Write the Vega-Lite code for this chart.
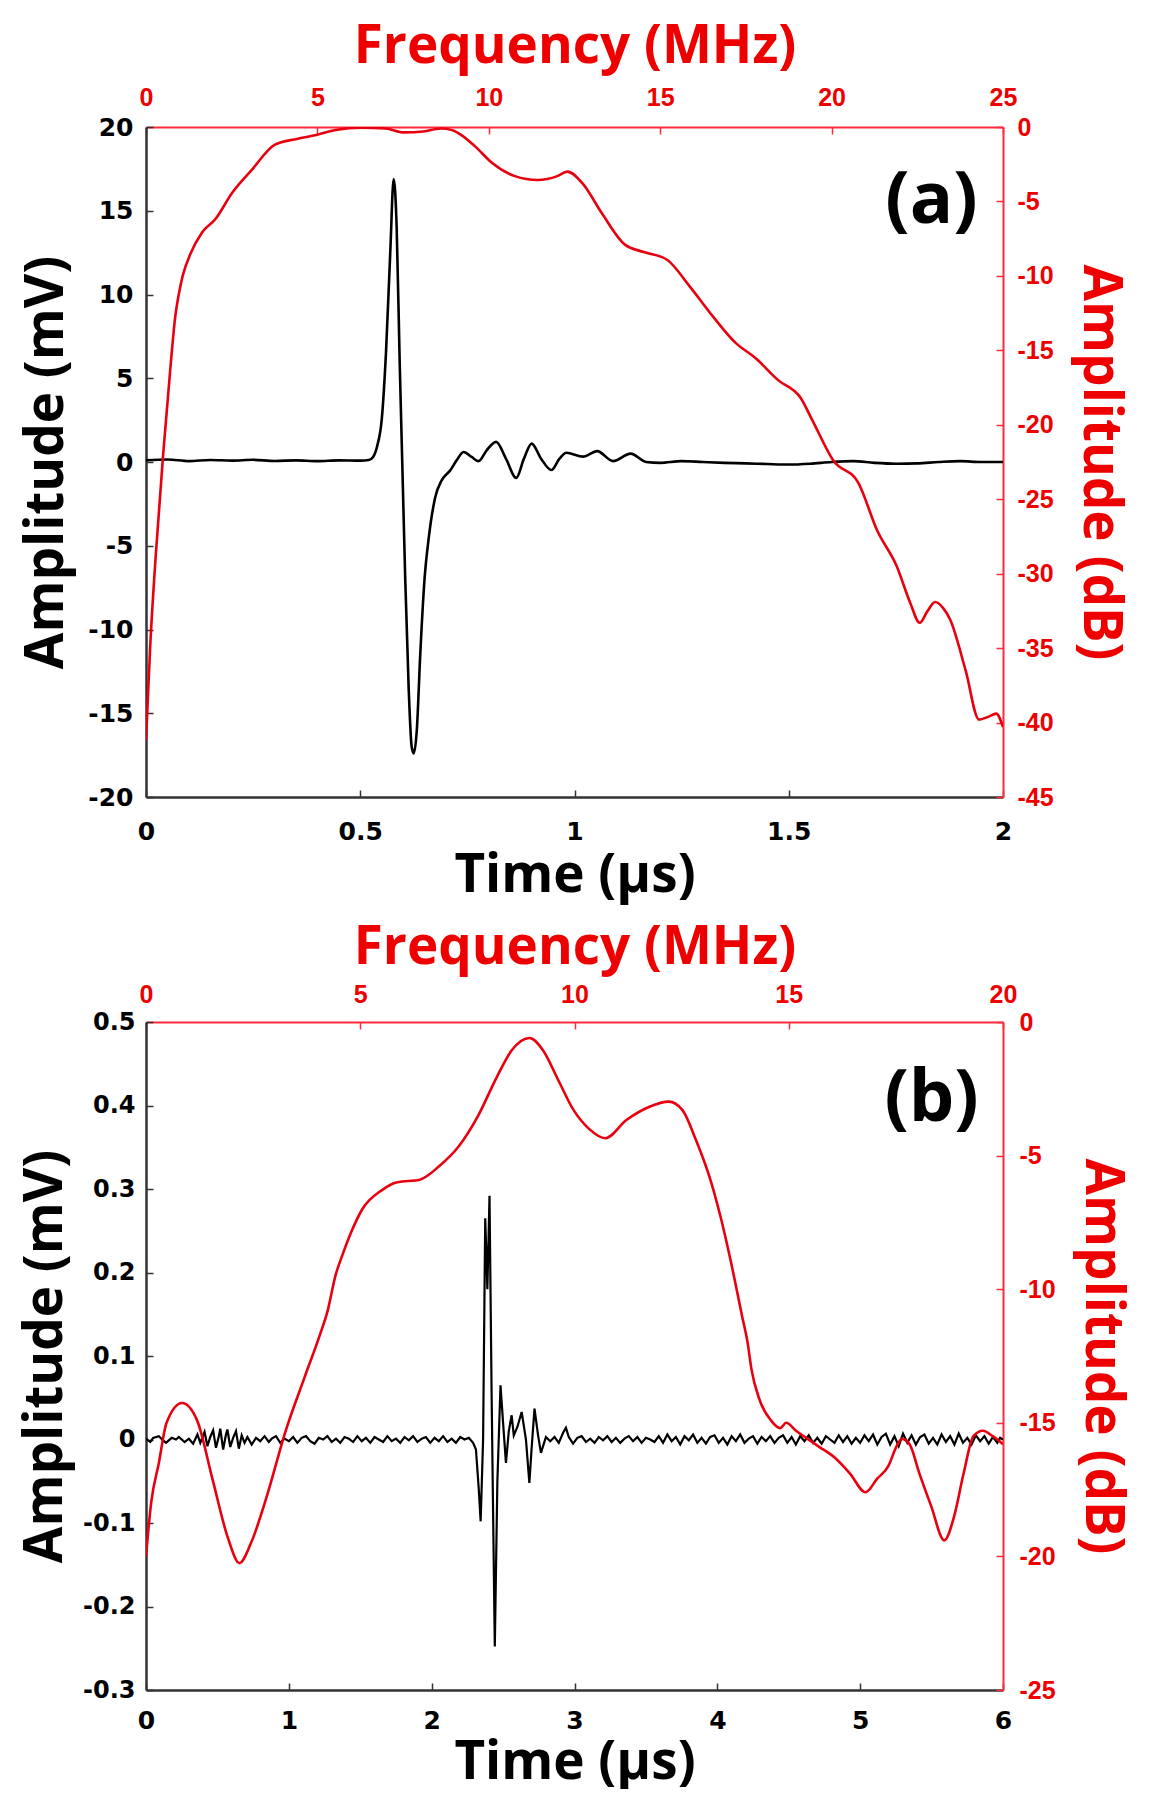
{
  "$schema": "https://vega.github.io/schema/vega-lite/v6.json",
  "background": "white",
  "padding": {"left": 19, "top": 20, "right": 0, "bottom": 0},
  "spacing": 19,
  "config": {
    "view": {"stroke": null},
    "axis": {"grid": false, "labelFontWeight": "bold", "titleFontWeight": "bold", "titleFont": "Open Sans", "titleFontSize": 53, "labelFlush": false, "labelOverlap": false, "tickSize": -7, "tickWidth": 1.5, "domainWidth": 2.5, "labelExpr": "'' + datum.value"}
  },
  "datasets": {
    "a_time": [
      {"t": 0, "v": 0.1}, {"t": 0.05, "v": 0.15}, {"t": 0.1, "v": 0.05}, {"t": 0.15, "v": 0.12}, {"t": 0.2, "v": 0.08}, {"t": 0.25, "v": 0.13}, {"t": 0.3, "v": 0.06}, {"t": 0.35, "v": 0.1}, {"t": 0.4, "v": 0.05}, {"t": 0.45, "v": 0.1}, {"t": 0.5, "v": 0.08}, {"t": 0.52, "v": 0.12},
      {"t": 0.53, "v": 0.3}, {"t": 0.54, "v": 1.0}, {"t": 0.55, "v": 2.5}, {"t": 0.56, "v": 6.5}, {"t": 0.57, "v": 12.5}, {"t": 0.578, "v": 16.9}, {"t": 0.585, "v": 14.0}, {"t": 0.592, "v": 6.0}, {"t": 0.598, "v": 0.0}, {"t": 0.605, "v": -7.0}, {"t": 0.613, "v": -13.5}, {"t": 0.62, "v": -17.0}, {"t": 0.625, "v": -17.4}, {"t": 0.632, "v": -16.0}, {"t": 0.64, "v": -11.5}, {"t": 0.65, "v": -7.0}, {"t": 0.66, "v": -4.5}, {"t": 0.675, "v": -2.1}, {"t": 0.69, "v": -1.1}, {"t": 0.71, "v": -0.5}, {"t": 0.725, "v": 0.1}, {"t": 0.741, "v": 0.6}, {"t": 0.76, "v": 0.3}, {"t": 0.776, "v": 0.05}, {"t": 0.795, "v": 0.7}, {"t": 0.817, "v": 1.2}, {"t": 0.84, "v": 0.2}, {"t": 0.864, "v": -0.95}, {"t": 0.882, "v": 0.2}, {"t": 0.9, "v": 1.1}, {"t": 0.922, "v": 0.2}, {"t": 0.946, "v": -0.48}, {"t": 0.965, "v": 0.2}, {"t": 0.981, "v": 0.55}, {"t": 1.02, "v": 0.32}, {"t": 1.053, "v": 0.65}, {"t": 1.09, "v": 0.05}, {"t": 1.131, "v": 0.5}, {"t": 1.167, "v": 0.0},
      {"t": 1.2, "v": -0.05}, {"t": 1.25, "v": 0.05}, {"t": 1.3, "v": 0.0}, {"t": 1.35, "v": -0.05}, {"t": 1.4, "v": -0.08}, {"t": 1.45, "v": -0.12}, {"t": 1.5, "v": -0.15}, {"t": 1.55, "v": -0.1}, {"t": 1.6, "v": 0.0}, {"t": 1.65, "v": 0.05}, {"t": 1.7, "v": -0.05}, {"t": 1.75, "v": -0.1}, {"t": 1.8, "v": -0.08}, {"t": 1.85, "v": 0.0}, {"t": 1.9, "v": 0.05}, {"t": 1.95, "v": 0.0}, {"t": 2.0, "v": 0.0}
    ],
    "a_freq": [
      {"f": 0, "db": -41.2}, {"f": 0.12, "db": -35}, {"f": 0.29, "db": -28.6}, {"f": 0.5, "db": -22}, {"f": 0.7, "db": -16.5}, {"f": 0.85, "db": -12.8}, {"f": 0.96, "db": -11.2}, {"f": 1.07, "db": -10.0}, {"f": 1.3, "db": -8.5}, {"f": 1.63, "db": -7.1}, {"f": 2.02, "db": -6.2}, {"f": 2.52, "db": -4.4}, {"f": 3.08, "db": -2.9}, {"f": 3.75, "db": -1.2}, {"f": 4.4, "db": -0.8}, {"f": 4.97, "db": -0.54}, {"f": 5.53, "db": -0.2}, {"f": 6.3, "db": -0.05}, {"f": 6.98, "db": -0.1}, {"f": 7.53, "db": -0.36}, {"f": 8.09, "db": -0.3}, {"f": 8.6, "db": -0.1}, {"f": 8.92, "db": -0.2}, {"f": 9.2, "db": -0.54}, {"f": 9.6, "db": -1.3}, {"f": 10.09, "db": -2.4}, {"f": 10.76, "db": -3.3}, {"f": 11.43, "db": -3.56}, {"f": 12.0, "db": -3.3}, {"f": 12.29, "db": -3.0}, {"f": 12.74, "db": -3.8}, {"f": 13.3, "db": -5.8}, {"f": 13.97, "db": -7.9}, {"f": 14.52, "db": -8.4}, {"f": 15.19, "db": -8.9}, {"f": 15.86, "db": -10.7}, {"f": 16.53, "db": -12.7}, {"f": 17.2, "db": -14.5}, {"f": 17.77, "db": -15.5}, {"f": 18.44, "db": -17.0}, {"f": 19.1, "db": -18.2}, {"f": 19.44, "db": -19.7}, {"f": 20.05, "db": -22.4}, {"f": 20.78, "db": -23.9}, {"f": 21.33, "db": -27.1}, {"f": 21.9, "db": -29.5}, {"f": 22.3, "db": -32.0}, {"f": 22.57, "db": -33.3}, {"f": 22.8, "db": -32.5}, {"f": 23.02, "db": -31.9}, {"f": 23.25, "db": -32.3}, {"f": 23.46, "db": -33.1}, {"f": 23.91, "db": -36.5}, {"f": 24.3, "db": -39.8}, {"f": 24.58, "db": -39.6}, {"f": 24.8, "db": -39.4}, {"f": 25.0, "db": -40.3}
    ],
    "b_time": [
      {"t": 0.0, "v": 0.001}, {"t": 0.03, "v": -0.003}, {"t": 0.05, "v": 0.002}, {"t": 0.09, "v": 0.004}, {"t": 0.12, "v": -0.001}, {"t": 0.14, "v": -0.004}, {"t": 0.18, "v": 0.002}, {"t": 0.21, "v": 0.0}, {"t": 0.23, "v": 0.003}, {"t": 0.27, "v": -0.003}, {"t": 0.3, "v": 0.001}, {"t": 0.33, "v": -0.005}, {"t": 0.36, "v": 0.006}, {"t": 0.38, "v": -0.004}, {"t": 0.41, "v": 0.009}, {"t": 0.43, "v": -0.008}, {"t": 0.45, "v": 0.003}, {"t": 0.47, "v": 0.011}, {"t": 0.49, "v": -0.01}, {"t": 0.51, "v": 0.004}, {"t": 0.52, "v": 0.013}, {"t": 0.54, "v": -0.012}, {"t": 0.56, "v": 0.006}, {"t": 0.57, "v": 0.012}, {"t": 0.59, "v": -0.009}, {"t": 0.61, "v": 0.002}, {"t": 0.63, "v": 0.01}, {"t": 0.65, "v": -0.011}, {"t": 0.67, "v": 0.005}, {"t": 0.69, "v": -0.004}, {"t": 0.71, "v": 0.003}, {"t": 0.74, "v": -0.006}, {"t": 0.77, "v": 0.002}, {"t": 0.8, "v": -0.002}, {"t": 0.83, "v": 0.004}, {"t": 0.86, "v": -0.003}, {"t": 0.88, "v": 0.001}, {"t": 0.91, "v": 0.004}, {"t": 0.94, "v": -0.004}, {"t": 0.97, "v": 0.001}, {"t": 1.0, "v": -0.002}, {"t": 1.03, "v": 0.003}, {"t": 1.06, "v": -0.004}, {"t": 1.09, "v": 0.002}, {"t": 1.12, "v": 0.004}, {"t": 1.15, "v": -0.002}, {"t": 1.18, "v": -0.005}, {"t": 1.21, "v": 0.002}, {"t": 1.24, "v": 0.0}, {"t": 1.27, "v": 0.004}, {"t": 1.3, "v": -0.003}, {"t": 1.33, "v": 0.001}, {"t": 1.36, "v": -0.004}, {"t": 1.39, "v": 0.003}, {"t": 1.42, "v": 0.001}, {"t": 1.45, "v": -0.003}, {"t": 1.48, "v": 0.004}, {"t": 1.51, "v": -0.002}, {"t": 1.54, "v": 0.002}, {"t": 1.57, "v": -0.004}, {"t": 1.6, "v": 0.003}, {"t": 1.63, "v": 0.0}, {"t": 1.66, "v": -0.003}, {"t": 1.69, "v": 0.004}, {"t": 1.72, "v": -0.002}, {"t": 1.75, "v": 0.001}, {"t": 1.78, "v": -0.004}, {"t": 1.81, "v": 0.003}, {"t": 1.84, "v": -0.001}, {"t": 1.87, "v": 0.004}, {"t": 1.9, "v": -0.003}, {"t": 1.93, "v": 0.001}, {"t": 1.96, "v": 0.003}, {"t": 1.99, "v": -0.004}, {"t": 2.02, "v": 0.002}, {"t": 2.05, "v": -0.002}, {"t": 2.08, "v": 0.004}, {"t": 2.11, "v": -0.003}, {"t": 2.14, "v": 0.001}, {"t": 2.17, "v": -0.004}, {"t": 2.2, "v": 0.003}, {"t": 2.23, "v": 0.0}, {"t": 2.26, "v": 0.002}, {"t": 2.29, "v": -0.004},
      {"t": 2.31, "v": -0.012}, {"t": 2.33, "v": -0.06}, {"t": 2.343, "v": -0.098}, {"t": 2.36, "v": 0.0}, {"t": 2.375, "v": 0.265}, {"t": 2.39, "v": 0.18}, {"t": 2.405, "v": 0.292}, {"t": 2.42, "v": 0.05}, {"t": 2.442, "v": -0.248}, {"t": 2.46, "v": -0.05}, {"t": 2.482, "v": 0.065}, {"t": 2.5, "v": 0.02}, {"t": 2.52, "v": -0.028}, {"t": 2.54, "v": 0.01}, {"t": 2.56, "v": 0.029}, {"t": 2.575, "v": 0.005}, {"t": 2.6, "v": 0.015}, {"t": 2.63, "v": 0.033}, {"t": 2.66, "v": 0.0}, {"t": 2.684, "v": -0.052}, {"t": 2.7, "v": -0.01}, {"t": 2.72, "v": 0.037}, {"t": 2.745, "v": 0.005}, {"t": 2.765, "v": -0.016}, {"t": 2.8, "v": 0.003},
      {"t": 2.83, "v": -0.002}, {"t": 2.86, "v": 0.003}, {"t": 2.89, "v": -0.004}, {"t": 2.92, "v": 0.008}, {"t": 2.94, "v": 0.014}, {"t": 2.96, "v": 0.003}, {"t": 2.99, "v": -0.005}, {"t": 3.02, "v": 0.002}, {"t": 3.05, "v": 0.004}, {"t": 3.08, "v": -0.003}, {"t": 3.11, "v": 0.001}, {"t": 3.14, "v": -0.004}, {"t": 3.17, "v": 0.003}, {"t": 3.2, "v": -0.001}, {"t": 3.23, "v": 0.004}, {"t": 3.26, "v": -0.003}, {"t": 3.29, "v": 0.002}, {"t": 3.32, "v": -0.004}, {"t": 3.35, "v": 0.001}, {"t": 3.38, "v": 0.004}, {"t": 3.41, "v": -0.002}, {"t": 3.44, "v": 0.003}, {"t": 3.47, "v": -0.004}, {"t": 3.5, "v": 0.002}, {"t": 3.53, "v": 0.0}, {"t": 3.56, "v": -0.003}, {"t": 3.59, "v": 0.004}, {"t": 3.62, "v": -0.004}, {"t": 3.65, "v": 0.006}, {"t": 3.68, "v": -0.002}, {"t": 3.71, "v": 0.003}, {"t": 3.74, "v": -0.006}, {"t": 3.77, "v": 0.004}, {"t": 3.8, "v": -0.001}, {"t": 3.83, "v": 0.006}, {"t": 3.86, "v": -0.004}, {"t": 3.89, "v": 0.002}, {"t": 3.92, "v": -0.005}, {"t": 3.95, "v": 0.003}, {"t": 3.98, "v": 0.005}, {"t": 4.01, "v": -0.004}, {"t": 4.04, "v": 0.002}, {"t": 4.07, "v": -0.006}, {"t": 4.1, "v": 0.004}, {"t": 4.13, "v": -0.002}, {"t": 4.16, "v": 0.006}, {"t": 4.19, "v": -0.004}, {"t": 4.22, "v": 0.001}, {"t": 4.25, "v": 0.004}, {"t": 4.28, "v": -0.005}, {"t": 4.31, "v": 0.003}, {"t": 4.34, "v": -0.002}, {"t": 4.37, "v": 0.004}, {"t": 4.4, "v": -0.004}, {"t": 4.43, "v": 0.002}, {"t": 4.46, "v": 0.005}, {"t": 4.49, "v": -0.004}, {"t": 4.52, "v": 0.003}, {"t": 4.55, "v": -0.006}, {"t": 4.58, "v": 0.004}, {"t": 4.61, "v": -0.002}, {"t": 4.64, "v": 0.005}, {"t": 4.67, "v": -0.004}, {"t": 4.7, "v": 0.002}, {"t": 4.73, "v": -0.005}, {"t": 4.76, "v": 0.004}, {"t": 4.79, "v": 0.0}, {"t": 4.82, "v": -0.004}, {"t": 4.85, "v": 0.005}, {"t": 4.88, "v": -0.003}, {"t": 4.91, "v": 0.004}, {"t": 4.94, "v": -0.005}, {"t": 4.97, "v": 0.002}, {"t": 5.0, "v": -0.004}, {"t": 5.03, "v": 0.005}, {"t": 5.06, "v": -0.002}, {"t": 5.09, "v": 0.006}, {"t": 5.12, "v": -0.006}, {"t": 5.15, "v": 0.003}, {"t": 5.18, "v": 0.007}, {"t": 5.21, "v": -0.006}, {"t": 5.24, "v": 0.004}, {"t": 5.27, "v": -0.008}, {"t": 5.3, "v": 0.007}, {"t": 5.33, "v": -0.004}, {"t": 5.36, "v": 0.005}, {"t": 5.39, "v": -0.006}, {"t": 5.42, "v": 0.003}, {"t": 5.45, "v": 0.006}, {"t": 5.48, "v": -0.005}, {"t": 5.51, "v": 0.002}, {"t": 5.54, "v": -0.006}, {"t": 5.57, "v": 0.006}, {"t": 5.6, "v": -0.003}, {"t": 5.63, "v": 0.004}, {"t": 5.66, "v": -0.006}, {"t": 5.69, "v": 0.007}, {"t": 5.72, "v": -0.004}, {"t": 5.75, "v": 0.002}, {"t": 5.78, "v": -0.006}, {"t": 5.81, "v": 0.005}, {"t": 5.84, "v": -0.002}, {"t": 5.87, "v": 0.004}, {"t": 5.9, "v": -0.005}, {"t": 5.93, "v": 0.003}, {"t": 5.96, "v": -0.004}, {"t": 5.98, "v": 0.002}, {"t": 6.0, "v": 0.0}
    ],
    "b_freq": [
      {"f": 0.0, "db": -20.0}, {"f": 0.12, "db": -18.0}, {"f": 0.3, "db": -16.5}, {"f": 0.48, "db": -15.0}, {"f": 0.84, "db": -14.26}, {"f": 1.19, "db": -14.9}, {"f": 1.55, "db": -17.1}, {"f": 1.91, "db": -19.3}, {"f": 2.18, "db": -20.25}, {"f": 2.45, "db": -19.5}, {"f": 2.81, "db": -17.8}, {"f": 3.26, "db": -15.3}, {"f": 3.7, "db": -13.3}, {"f": 4.06, "db": -11.7}, {"f": 4.24, "db": -10.8}, {"f": 4.42, "db": -9.5}, {"f": 4.6, "db": -8.65}, {"f": 4.78, "db": -7.9}, {"f": 5.05, "db": -7.0}, {"f": 5.5, "db": -6.3}, {"f": 5.86, "db": -6.0}, {"f": 6.39, "db": -5.9}, {"f": 6.84, "db": -5.4}, {"f": 7.29, "db": -4.67}, {"f": 7.74, "db": -3.54}, {"f": 8.19, "db": -2.05}, {"f": 8.54, "db": -1.05}, {"f": 8.95, "db": -0.6}, {"f": 9.26, "db": -1.05}, {"f": 9.62, "db": -2.17}, {"f": 9.98, "db": -3.3}, {"f": 10.34, "db": -4.0}, {"f": 10.72, "db": -4.35}, {"f": 11.21, "db": -3.67}, {"f": 11.75, "db": -3.17}, {"f": 12.2, "db": -2.98}, {"f": 12.52, "db": -3.3}, {"f": 12.83, "db": -4.4}, {"f": 13.19, "db": -6.0}, {"f": 13.41, "db": -7.3}, {"f": 13.64, "db": -8.9}, {"f": 13.91, "db": -11.0}, {"f": 14.04, "db": -12.0}, {"f": 14.13, "db": -13.0}, {"f": 14.31, "db": -14.1}, {"f": 14.58, "db": -14.9}, {"f": 14.8, "db": -15.2}, {"f": 14.94, "db": -15.0}, {"f": 15.17, "db": -15.3}, {"f": 15.44, "db": -15.6}, {"f": 15.71, "db": -15.9}, {"f": 16.07, "db": -16.3}, {"f": 16.43, "db": -16.9}, {"f": 16.79, "db": -17.6}, {"f": 17.06, "db": -17.1}, {"f": 17.33, "db": -16.6}, {"f": 17.51, "db": -15.9}, {"f": 17.64, "db": -15.6}, {"f": 17.82, "db": -15.8}, {"f": 18.05, "db": -16.9}, {"f": 18.32, "db": -18.1}, {"f": 18.63, "db": -19.4}, {"f": 18.86, "db": -18.5}, {"f": 19.08, "db": -16.9}, {"f": 19.31, "db": -15.5}, {"f": 19.53, "db": -15.3}, {"f": 19.76, "db": -15.5}, {"f": 20.0, "db": -15.8}
    ],
    "a_label": [{"t": 1.833, "v": 15.6, "label": "(a)"}],
    "b_label": [{"t": 5.5, "v": 0.408, "label": "(b)"}]
  },
  "vconcat": [
    {
      "width": 857,
      "height": 670,
      "layer": [
        {
          "data": {"name": "a_time"},
          "mark": {"type": "line", "color": "black", "strokeWidth": 2.6, "clip": true, "interpolate": "monotone"},
          "encoding": {
            "x": {"field": "t", "type": "quantitative", "scale": {"domain": [0, 2], "nice": false, "zero": false},
                  "axis": {"orient": "bottom", "values": [0, 0.5, 1, 1.5, 2], "title": "Time (µs)", "titleColor": "black", "labelColor": "black", "labelFont": "DejaVu Sans", "labelFontSize": 25, "labelPadding": 29, "titlePadding": 5, "domainColor": "#333333", "tickColor": "#333333"}},
            "y": {"field": "v", "type": "quantitative", "scale": {"domain": [-20, 20], "nice": false, "zero": false},
                  "axis": {"orient": "left", "values": [-20, -15, -10, -5, 0, 5, 10, 15, 20], "title": "Amplitude (mV)", "titleColor": "black", "labelColor": "black", "labelFont": "DejaVu Sans", "labelFontSize": 25, "labelPadding": 20, "titlePadding": 14, "domainColor": "#333333", "tickColor": "#333333"}}
          }
        },
        {
          "data": {"name": "a_label"},
          "mark": {"type": "text", "font": "Open Sans", "fontWeight": "bold", "fontSize": 72, "color": "black", "align": "center", "baseline": "middle"},
          "encoding": {
            "x": {"field": "t", "type": "quantitative", "scale": {"domain": [0, 2], "nice": false, "zero": false}, "axis": null},
            "y": {"field": "v", "type": "quantitative", "scale": {"domain": [-20, 20], "nice": false, "zero": false}, "axis": null},
            "text": {"field": "label"}
          }
        },
        {
          "data": {"name": "a_freq"},
          "mark": {"type": "line", "color": "#e8000f", "strokeWidth": 2.6, "clip": true, "interpolate": "monotone"},
          "encoding": {
            "x": {"field": "f", "type": "quantitative", "scale": {"domain": [0, 25], "nice": false, "zero": false},
                  "axis": {"orient": "top", "values": [0, 5, 10, 15, 20, 25], "title": "Frequency (MHz)", "titleColor": "#ee0000", "labelColor": "#ee0000", "labelFont": "Liberation Sans", "labelFontSize": 25, "labelPadding": 24, "titlePadding": 12, "domainColor": "#ff2a3a", "tickColor": "#ff2a3a", "domainWidth": 2}},
            "y": {"field": "db", "type": "quantitative", "scale": {"domain": [-45, 0], "nice": false, "zero": false},
                  "axis": {"orient": "right", "values": [-45, -40, -35, -30, -25, -20, -15, -10, -5, 0], "title": "Amplitude (dB)", "titleColor": "#ee0000", "labelColor": "#ee0000", "labelFont": "Liberation Sans", "labelFontSize": 25, "labelPadding": 21, "titlePadding": 19, "domainColor": "#ff2a3a", "tickColor": "#ff2a3a", "domainWidth": 2}}
          }
        }
      ],
      "resolve": {"scale": {"x": "independent", "y": "independent"}, "axis": {"x": "independent", "y": "independent"}}
    },
    {
      "width": 857,
      "height": 668,
      "layer": [
        {
          "data": {"name": "b_time"},
          "mark": {"type": "line", "color": "black", "strokeWidth": 2.2, "clip": true},
          "encoding": {
            "x": {"field": "t", "type": "quantitative", "scale": {"domain": [0, 6], "nice": false, "zero": false},
                  "axis": {"orient": "bottom", "values": [0, 1, 2, 3, 4, 5, 6], "title": "Time (µs)", "titleColor": "black", "labelColor": "black", "labelFont": "DejaVu Sans", "labelFontSize": 25, "labelPadding": 25, "titlePadding": 3, "domainColor": "#333333", "tickColor": "#333333"}},
            "y": {"field": "v", "type": "quantitative", "scale": {"domain": [-0.3, 0.5], "nice": false, "zero": false},
                  "axis": {"orient": "left", "values": [-0.3, -0.2, -0.1, 0, 0.1, 0.2, 0.3, 0.4, 0.5], "title": "Amplitude (mV)", "titleColor": "black", "labelColor": "black", "labelFont": "DejaVu Sans", "labelFontSize": 24, "labelPadding": 18, "titlePadding": 10, "domainColor": "#333333", "tickColor": "#333333"}}
          }
        },
        {
          "data": {"name": "b_label"},
          "mark": {"type": "text", "font": "Open Sans", "fontWeight": "bold", "fontSize": 72, "color": "black", "align": "center", "baseline": "middle"},
          "encoding": {
            "x": {"field": "t", "type": "quantitative", "scale": {"domain": [0, 6], "nice": false, "zero": false}, "axis": null},
            "y": {"field": "v", "type": "quantitative", "scale": {"domain": [-0.3, 0.5], "nice": false, "zero": false}, "axis": null},
            "text": {"field": "label"}
          }
        },
        {
          "data": {"name": "b_freq"},
          "mark": {"type": "line", "color": "#e8000f", "strokeWidth": 2.6, "clip": true, "interpolate": "monotone"},
          "encoding": {
            "x": {"field": "f", "type": "quantitative", "scale": {"domain": [0, 20], "nice": false, "zero": false},
                  "axis": {"orient": "top", "values": [0, 5, 10, 15, 20], "title": "Frequency (MHz)", "titleColor": "#ee0000", "labelColor": "#ee0000", "labelFont": "Liberation Sans", "labelFontSize": 25, "labelPadding": 22, "titlePadding": 8, "domainColor": "#ff2a3a", "tickColor": "#ff2a3a", "domainWidth": 2}},
            "y": {"field": "db", "type": "quantitative", "scale": {"domain": [-25, 0], "nice": false, "zero": false},
                  "axis": {"orient": "right", "values": [-25, -20, -15, -10, -5, 0], "title": "Amplitude (dB)", "titleColor": "#ee0000", "labelColor": "#ee0000", "labelFont": "Liberation Sans", "labelFontSize": 25, "labelPadding": 23, "titlePadding": 19, "domainColor": "#ff2a3a", "tickColor": "#ff2a3a", "domainWidth": 2}}
          }
        }
      ],
      "resolve": {"scale": {"x": "independent", "y": "independent"}, "axis": {"x": "independent", "y": "independent"}}
    }
  ]
}
